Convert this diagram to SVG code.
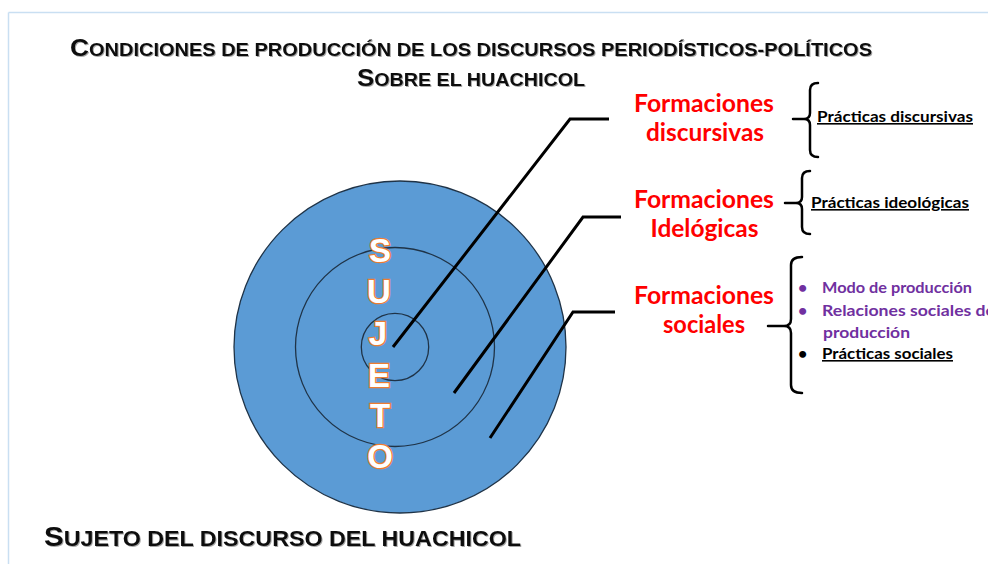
<svg xmlns="http://www.w3.org/2000/svg" width="988" height="564" viewBox="0 0 988 564">
  <style>
    .title { font-family: "Liberation Sans", Arial, sans-serif; font-weight: bold; fill: #111; }
    .red { font-family: Lato, "Liberation Sans", sans-serif; font-weight: bold; font-size: 24px; fill: #FF0000; text-anchor: middle; }
    .item { font-family: Lato, "Liberation Sans", sans-serif; font-weight: bold; font-size: 16px; fill: #000; }
    .purple { fill: #7030A0; }
    .ul { text-decoration: underline; }
    .brace { fill: none; stroke: #000; stroke-width: 2.5; stroke-linecap: round; stroke-linejoin: round; }
    .conn { fill: none; stroke: #000; stroke-width: 3; stroke-linejoin: miter; }
    .ring { fill: #5B9BD5; stroke: #1F3347; stroke-width: 1.3; }
    .letter { font-family: "Liberation Sans", Arial, sans-serif; font-weight: bold; font-size: 33px; fill: #FFFFFF; stroke: #ED7D31; stroke-width: 2.5; paint-order: stroke; text-anchor: middle; }
  </style>
  <defs>
    <filter id="shadow" x="-5%" y="-30%" width="110%" height="160%">
      <feDropShadow dx="1" dy="1" stdDeviation="0.7" flood-color="#000" flood-opacity="0.35"/>
    </filter>
  </defs>

  <rect x="0" y="0" width="988" height="564" fill="#FFFFFF"/>
  <g id="frame" fill="none" stroke="#C9DFF2" stroke-width="1.5">
    <line x1="8.5" y1="12.5" x2="988" y2="12.5"/>
    <line x1="8.5" y1="12.5" x2="8.5" y2="564"/>
  </g>

  <g id="title" filter="url(#shadow)">
    <text class="title" x="70" y="56" textLength="802" lengthAdjust="spacingAndGlyphs"><tspan font-size="23">C</tspan><tspan font-size="17.5">ONDICIONES DE PRODUCCIÓN DE LOS DISCURSOS PERIODÍSTICOS-POLÍTICOS</tspan></text>
    <text class="title" x="357" y="86" textLength="228" lengthAdjust="spacingAndGlyphs"><tspan font-size="23">S</tspan><tspan font-size="17.5">OBRE EL HUACHICOL</tspan></text>
  </g>

  <g id="target">
    <circle class="ring" cx="400" cy="347" r="166" stroke="#41719C"/>
    <circle class="ring" cx="395" cy="347" r="99.5"/>
    <circle class="ring" cx="395" cy="347" r="33.7"/>
  </g>

  <g id="connectors">
    <polyline class="conn" points="393,347 570,119 609,119"/>
    <polyline class="conn" points="454,393 583,217 621,217"/>
    <polyline class="conn" points="490,438 573,312 615,312"/>
  </g>

  <g id="sujeto">
    <text class="letter" x="380" y="262">S</text>
    <text class="letter" x="379" y="303">U</text>
    <text class="letter" x="378" y="345">J</text>
    <text class="letter" x="379" y="387">E</text>
    <text class="letter" x="380" y="427">T</text>
    <text class="letter" x="380" y="468">O</text>
  </g>

  <g id="formaciones-discursivas">
    <text class="red" x="704" y="112" textLength="140" lengthAdjust="spacingAndGlyphs">Formaciones</text>
    <text class="red" x="705" y="141" textLength="118" lengthAdjust="spacingAndGlyphs">discursivas</text>
  </g>
  <g id="formaciones-ideologicas">
    <text class="red" x="704" y="208" textLength="140" lengthAdjust="spacingAndGlyphs">Formaciones</text>
    <text class="red" x="704.5" y="237" textLength="108" lengthAdjust="spacingAndGlyphs">Idelógicas</text>
  </g>
  <g id="formaciones-sociales">
    <text class="red" x="704" y="304" textLength="140" lengthAdjust="spacingAndGlyphs">Formaciones</text>
    <text class="red" x="704" y="333" textLength="82" lengthAdjust="spacingAndGlyphs">sociales</text>
  </g>

  <g id="brace-discursivas">
    <path class="brace" d="M818,83 Q810,83 810,90 L810,113 Q810,119 804,119 Q810,119 810,125 L810,150 Q810,157 818,157 M793,119 L806,119"/>
    <text class="item ul" x="817" y="122" textLength="156" lengthAdjust="spacingAndGlyphs">Prácticas discursivas</text>
  </g>
  <g id="brace-ideologicas">
    <path class="brace" d="M810,171 Q802,171 802,178 L802,197 Q802,203 796,203 Q802,203 802,209 L802,227 Q802,234 810,234 M785,203 L798,203"/>
    <text class="item ul" x="811" y="208" textLength="158" lengthAdjust="spacingAndGlyphs">Prácticas ideológicas</text>
  </g>
  <g id="brace-sociales">
    <path class="brace" d="M802,257 Q791,257 791,265 L791,319 Q791,326 784,326 Q791,326 791,333 L791,385 Q791,393 802,393 M768,326 L786,326"/>
    <text class="item purple" x="798" y="293">•</text>
    <text class="item purple" x="822" y="293" textLength="150" lengthAdjust="spacingAndGlyphs">Modo de producción</text>
    <text class="item purple" x="798" y="316">•</text>
    <text class="item purple" x="822" y="316" textLength="173" lengthAdjust="spacingAndGlyphs">Relaciones sociales de</text>
    <text class="item purple" x="823" y="338" textLength="87" lengthAdjust="spacingAndGlyphs">producción</text>
    <text class="item" x="798" y="359">•</text>
    <text class="item ul" x="822" y="359" textLength="131" lengthAdjust="spacingAndGlyphs">Prácticas sociales</text>
  </g>

  <g id="subtitle" filter="url(#shadow)">
    <text class="title" x="44" y="546" textLength="477" lengthAdjust="spacingAndGlyphs"><tspan font-size="28">S</tspan><tspan font-size="22">UJETO DEL DISCURSO DEL HUACHICOL</tspan></text>
  </g>
</svg>
